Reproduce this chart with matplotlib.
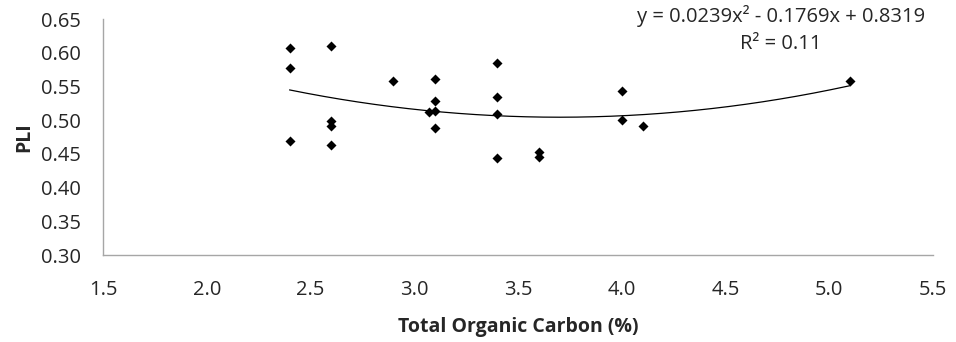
import numpy as np
import matplotlib
matplotlib.use("Agg")
import matplotlib.pyplot as plt

toc = [2.4, 2.4, 2.4, 2.6, 2.6, 2.6, 2.6, 2.9, 3.1, 3.1, 3.07, 3.1, 3.1,
       3.4, 3.4, 3.4, 3.4, 3.6, 3.6, 4.0, 4.0, 4.1, 5.1]
pli = [0.607, 0.577, 0.469, 0.610, 0.499, 0.492, 0.464, 0.559, 0.561, 0.529, 0.513, 0.514, 0.489,
       0.585, 0.534, 0.509, 0.444, 0.453, 0.446, 0.544, 0.501, 0.492, 0.559]
coef = [0.0239, -0.1769, 0.8319]
r2 = 0.11
xticks = [1.5, 2.0, 2.5, 3.0, 3.5, 4.0, 4.5, 5.0, 5.5]
yticks = [0.30, 0.35, 0.40, 0.45, 0.50, 0.55, 0.60, 0.65]

plt.rcParams['font.family'] = ['Open Sans', 'DejaVu Sans']

fig = plt.figure(figsize=(9.56, 3.42), dpi=100)
ax = fig.add_axes([0.1077, 0.254, 0.8683, 0.690])

ax.scatter(toc, pli, marker='D', s=26, color='black', zorder=3, linewidths=0)
xs = np.linspace(min(toc), max(toc), 200)
ax.plot(xs, np.polyval(coef, xs), color='black', lw=0.9, zorder=2)

ax.set_xlim(1.5, 5.5)
ax.set_ylim(0.30, 0.65)
ax.set_xticks(xticks)
ax.set_xticklabels([f"{v:.1f}" for v in xticks])
ax.set_yticks(yticks)
ax.set_yticklabels([f"{v:.2f}" for v in yticks])
ax.tick_params(length=0, labelsize=14.5, colors='#262626')
ax.tick_params(axis='x', pad=18)
ax.tick_params(axis='y', pad=16)
for s in ['top', 'right']:
    ax.spines[s].set_visible(False)
for s in ['left', 'bottom']:
    ax.spines[s].set_color('#a6a6a6')
    ax.spines[s].set_linewidth(1.0)

ax.set_xlabel("Total Organic Carbon (%)", fontsize=14, fontweight='bold', color='#262626', labelpad=12)
ax.set_ylabel("PLI", fontsize=14, fontweight='bold', color='#262626', labelpad=5)

eq = f"y = {coef[0]:.4f}x² - {abs(coef[1]):.4f}x + {coef[2]:.4f}\nR² = {r2:.2f}"
fig.text(0.9676, 0.985, eq, ha='right', va='top', fontsize=14.5, color='#262626',
         multialignment='center', linespacing=1.45)

fig.savefig("out.png", dpi=100)
